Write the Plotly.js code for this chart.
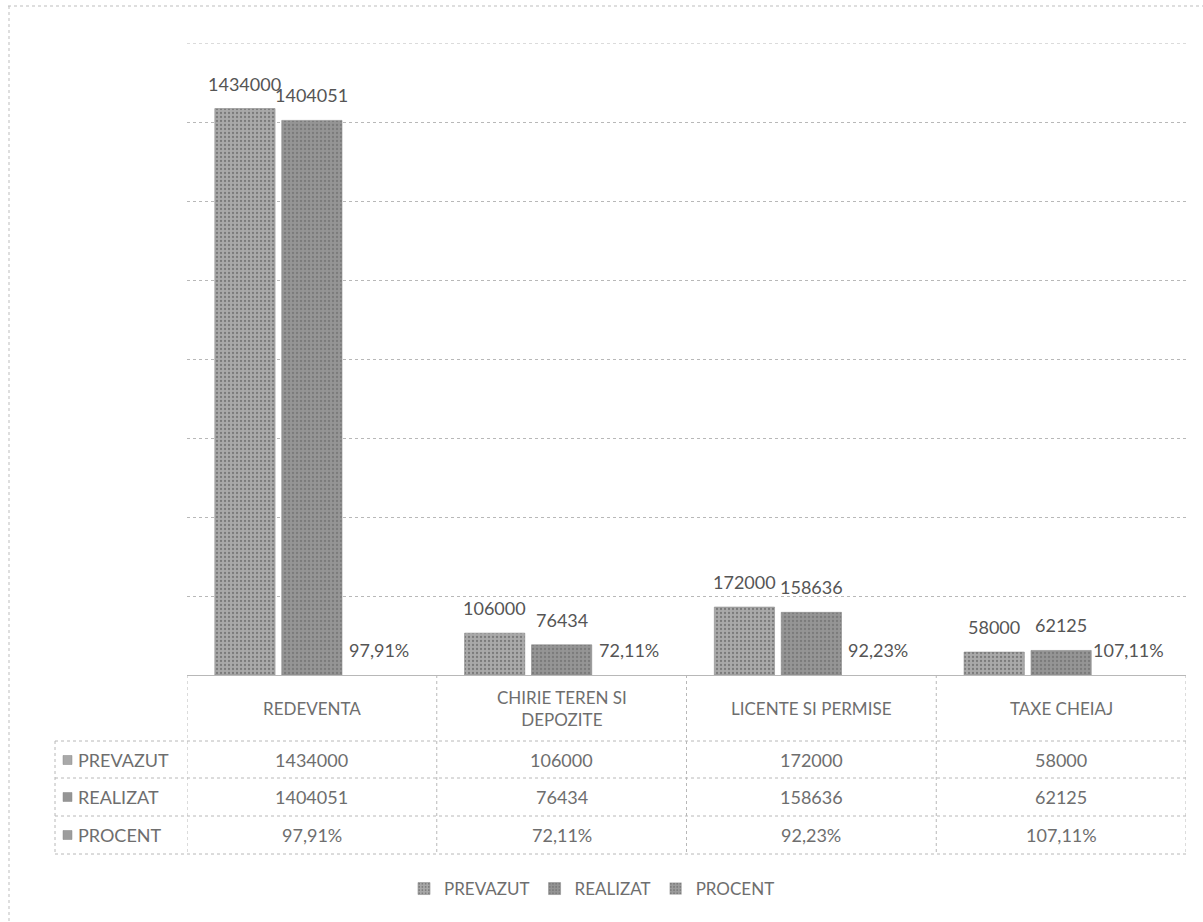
<!DOCTYPE html>
<html>
<head>
<meta charset="utf-8">
<script src="https://cdn.plot.ly/plotly-3.0.1.min.js"></script>
<style>
  html, body { margin: 0; padding: 0; background: #ffffff; }
  #chart { width: 1203px; height: 922px; }
</style>
</head>
<body>
<div id="chart"></div>
<script>
// ---- data ----
const categories = ['REDEVENTA', 'CHIRIE TEREN SI DEPOZITE', 'LICENTE SI PERMISE', 'TAXE CHEIAJ'];
const headerLabels = ['REDEVENTA', 'CHIRIE TEREN SI<br>DEPOZITE', 'LICENTE SI PERMISE', 'TAXE CHEIAJ'];
const seriesNames = ['PREVAZUT', 'REALIZAT', 'PROCENT'];
const prevazut = [1434000, 106000, 172000, 58000];
const realizat = [1404051, 76434, 158636, 62125];
const procent = [0.9791, 0.7211, 0.9223, 1.0711];

// ---- helpers ----
const fmtPct = v => (v * 100).toFixed(2).replace('.', ',') + '%';
const fmtNum = v => String(v);

const W = 1203, H = 922;
const L = 187, R = 1186, T = 43, B = 675;
const px2x = px => (px - L) / (R - L);
const py2y = py => (B - py) / (B - T);

const FONT = 'Lato, "Open Sans", sans-serif';
const LABEL_COLOR = '#555555';
const TABLE_COLOR = '#6e6e6e';
const GRID_COLOR = '#b8b8b8';

const colors = ['#a9a9a9', '#959595', '#9d9d9d'];
const seriesValues = [prevazut, realizat, procent];
const seriesText = [prevazut.map(fmtNum), realizat.map(fmtNum), procent.map(fmtPct)];

const bargap = 0.196;
const slot = (1 - bargap) / 3;
const offsets = [-slot, 0, slot];

const traces = seriesNames.map((name, s) => ({
  type: 'bar',
  name: name,
  x: categories,
  y: seriesValues[s],
  marker: {
    color: colors[s],
    line: { color: '#8a8a8a', width: s === 2 ? 0 : 0.6 },
    pattern: { shape: '.', fgcolor: '#7a7a7a', bgcolor: colors[s], size: 4, solidity: 0.25, fillmode: 'replace' }
  },
  hoverinfo: 'skip'
}));

const annotations = [];
// data labels above bars
seriesNames.forEach((name, s) => {
  categories.forEach((c, i) => {
    annotations.push({
      xref: 'x', yref: 'y',
      x: i + offsets[s], y: seriesValues[s][i],
      text: seriesText[s][i],
      showarrow: false, xanchor: 'center', yanchor: 'bottom', yshift: 12,
      font: { family: FONT, size: 18, color: LABEL_COLOR }
    });
  });
});

// table: category header row
const headerY = py2y(708);
categories.forEach((c, i) => {
  annotations.push({
    xref: 'x', yref: 'paper', x: i, y: headerY,
    text: headerLabels[i], showarrow: false, xanchor: 'center', yanchor: 'middle',
    font: { family: FONT, size: 17, color: TABLE_COLOR }
  });
});

// table rows
const rowCenters = [760, 797, 835];
seriesNames.forEach((name, s) => {
  const yy = py2y(rowCenters[s]);
  annotations.push({
    xref: 'paper', yref: 'paper', x: px2x(76), y: yy,
    text: name, showarrow: false, xanchor: 'left', yanchor: 'middle',
    font: { family: FONT, size: 18, color: TABLE_COLOR }
  });
  categories.forEach((c, i) => {
    annotations.push({
      xref: 'x', yref: 'paper', x: i, y: yy,
      text: seriesText[s][i], showarrow: false, xanchor: 'center', yanchor: 'middle',
      font: { family: FONT, size: 18, color: TABLE_COLOR }
    });
  });
});

const shapes = [];
const dotted = { color: GRID_COLOR, width: 1, dash: 'dot' };
// top gridline at the end of the value range
shapes.push({ type: 'line', xref: 'paper', yref: 'y', x0: 0, x1: 1, y0: 1600000, y1: 1600000, line: dotted });
// horizontal table lines
[741, 778, 816, 854].forEach(py => {
  shapes.push({ type: 'line', xref: 'paper', yref: 'paper', x0: px2x(55), x1: 1, y0: py2y(py), y1: py2y(py), line: dotted });
});
// vertical table lines at category boundaries
for (let k = 0; k <= categories.length; k++) {
  shapes.push({ type: 'line', xref: 'x', yref: 'paper', x0: k - 0.5, x1: k - 0.5, y0: 0, y1: py2y(854), line: dotted });
}
// row header left border
shapes.push({ type: 'line', xref: 'paper', yref: 'paper', x0: px2x(55), x1: px2x(55), y0: py2y(741), y1: py2y(854), line: dotted });
// legend keys in row headers
rowCenters.forEach((py, s) => {
  shapes.push({
    type: 'rect', xref: 'paper', yref: 'paper',
    x0: px2x(63), x1: px2x(72), y0: py2y(py + 4.5), y1: py2y(py - 4.5),
    fillcolor: colors[s], line: { color: '#888888', width: 0.5 }
  });
});
// outer chart frame (scan border)
shapes.push({ type: 'line', xref: 'paper', yref: 'paper', x0: px2x(8), x1: px2x(1203), y0: py2y(6), y1: py2y(6), line: { color: '#bdbdbd', width: 1, dash: 'dot' } });
shapes.push({ type: 'line', xref: 'paper', yref: 'paper', x0: px2x(9), x1: px2x(9), y0: py2y(6), y1: py2y(922), line: { color: '#bdbdbd', width: 1, dash: 'dot' } });

const layout = {
  width: W, height: H,
  margin: { l: L, r: W - R, t: T, b: H - B, pad: 0 },
  paper_bgcolor: '#ffffff', plot_bgcolor: '#ffffff',
  barmode: 'group', bargap: bargap, bargroupgap: 0.1,
  showlegend: true,
  legend: {
    orientation: 'h', x: px2x(592), xanchor: 'center', y: py2y(889), yanchor: 'middle',
    font: { family: FONT, size: 17, color: TABLE_COLOR },
    itemwidth: 30, tracegroupgap: 0, itemclick: false
  },
  xaxis: {
    type: 'category', showticklabels: false, ticks: '', showgrid: false, zeroline: false,
    showline: false, range: [-0.5, categories.length - 0.5], fixedrange: true
  },
  yaxis: {
    range: [0, 1600000], dtick: 200000, showticklabels: false, ticks: '',
    showgrid: true, gridcolor: GRID_COLOR, griddash: 'dot', gridwidth: 1,
    zeroline: true, zerolinecolor: GRID_COLOR, zerolinewidth: 1, showline: false, fixedrange: true
  },
  font: { family: FONT, color: TABLE_COLOR },
  annotations: annotations,
  shapes: shapes
};

Plotly.newPlot('chart', traces, layout, { displayModeBar: false, staticPlot: true });
</script>
</body>
</html>
